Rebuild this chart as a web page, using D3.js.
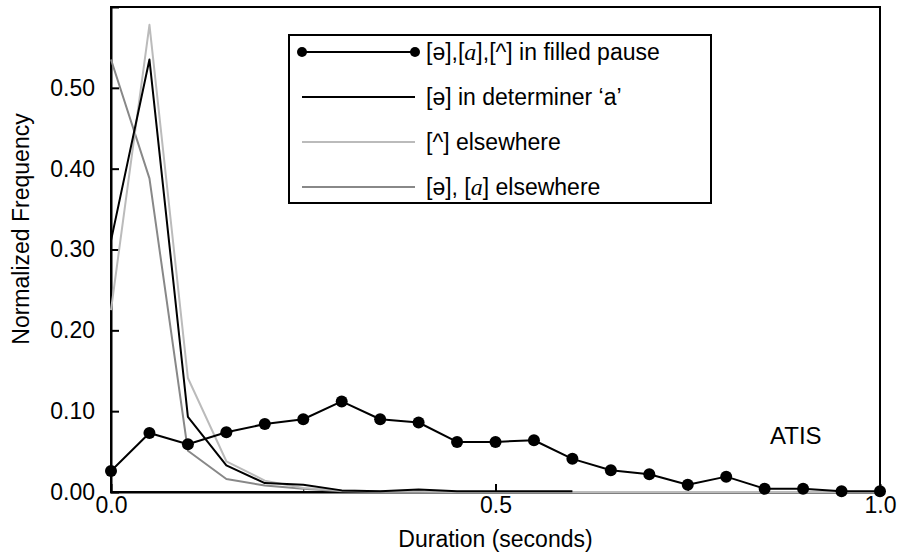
<!DOCTYPE html>
<html>
<head>
<meta charset="utf-8">
<script src="https://cdn.jsdelivr.net/npm/d3@7"></script>
<style>
  body { margin: 0; background: #fff; }
  text { font-family: "Liberation Sans", Arial, sans-serif; }
</style>
</head>
<body>
<div id="chart"></div>
<script>
// durations (seconds), bins of 0.05
var durations = [0, 0.05, 0.1, 0.15, 0.2, 0.25, 0.3, 0.35, 0.4, 0.45, 0.5,
                 0.55, 0.6, 0.65, 0.7, 0.75, 0.8, 0.85, 0.9, 0.95, 1.0];
var filledPause = [0.026, 0.073, 0.059, 0.074, 0.084, 0.090, 0.112, 0.090, 0.086, 0.062, 0.062,
                   0.064, 0.041, 0.027, 0.022, 0.009, 0.019, 0.004, 0.004, 0.001, 0.001];
var determinerA = [0.311, 0.535, 0.093, 0.033, 0.011, 0.009, 0.002, 0.001, 0.003, 0.001, 0.001,
                   0.001, 0.001];
var caretElse = [0.225, 0.578, 0.141, 0.038, 0.014, 0.005, 0.002, 0.001, 0.001, 0.000, 0.000,
                 0.000, 0.000, 0.000, 0.000, 0.000, 0.000, 0.000, 0.000, 0.000, 0.000];
var schwaElse = [0.535, 0.388, 0.051, 0.016, 0.008, 0.004, 0.001, 0.000, 0.000, 0.000, 0.000,
                 0.000, 0.000, 0.000, 0.000, 0.000, 0.000, 0.000, 0.000, 0.000, 0.000];
var xTicks = [0, 0.5, 1.0];
var xMinorTicks = [0.25, 0.75];
var yTicks = [0, 0.1, 0.2, 0.3, 0.4, 0.5];

var margin = {top: 7, right: 17, bottom: 63, left: 111},
    width = 897 - margin.left - margin.right,
    height = 555 - margin.top - margin.bottom;

var svg = d3.select("#chart").append("svg")
    .attr("width", 897)
    .attr("height", 555);
var g = svg.append("g")
    .attr("transform", "translate(" + margin.left + "," + margin.top + ")");

var x = d3.scaleLinear().domain([0, 1]).range([0, width]);
var y = d3.scaleLinear().domain([0, 0.6]).range([height, 0]);

// frame
g.append("rect")
  .attr("width", width).attr("height", height)
  .attr("fill", "none").attr("stroke", "#000").attr("stroke-width", 2);

// axes with inward ticks
var xAxis = d3.axisBottom(x).tickValues(xTicks).tickSize(-8).tickPadding(5)
  .tickFormat(d3.format(".1f"));
var gx = g.append("g").attr("transform", "translate(0," + height + ")").call(xAxis);
g.append("g").attr("transform", "translate(0," + height + ")")
  .call(d3.axisBottom(x).tickValues(xMinorTicks).tickSize(-4).tickFormat(""))
  .select(".domain").remove();
var yAxis = d3.axisLeft(y).tickValues(yTicks).tickSize(-8).tickPadding(16)
  .tickFormat(d3.format(".2f"));
var gy = g.append("g").call(yAxis);
[gx, gy].forEach(function (a) {
  a.select(".domain").attr("stroke-width", 2);
  a.selectAll(".tick line").attr("stroke-width", 2);
  a.selectAll("text").style("font-size", "23px").attr("fill", "#000");
});
gx.selectAll(".tick line").filter(function (d) { return d === 0 || d === 1; }).remove();
gy.selectAll(".tick line").filter(function (d) { return d === 0; }).remove();

// axis titles
svg.append("text")
  .attr("x", margin.left + width / 2).attr("y", 547)
  .attr("text-anchor", "middle").style("font-size", "23px")
  .text("Duration (seconds)");
svg.append("text")
  .attr("transform", "translate(29,229) rotate(-90)")
  .attr("text-anchor", "middle").style("font-size", "23px")
  .text("Normalized Frequency");

var line = d3.line()
  .x(function (d, i) { return x(durations[i]); })
  .y(function (d) { return y(d); });

var series = [
  {name: "schwa", values: schwaElse, color: "#888", w: 2},
  {name: "caret", values: caretElse, color: "#bbb", w: 2},
  {name: "det", values: determinerA, color: "#000", w: 2},
  {name: "fp", values: filledPause, color: "#000", w: 2}
];
series.forEach(function (s) {
  g.append("path").datum(s.values)
    .attr("d", line)
    .attr("fill", "none")
    .attr("stroke", s.color)
    .attr("stroke-width", s.w)
    .attr("stroke-linejoin", "round");
});

g.selectAll(".dot")
  .data(filledPause)
  .enter().append("circle")
  .attr("class", "dot")
  .attr("cx", function (d, i) { return x(durations[i]); })
  .attr("cy", function (d) { return y(d); })
  .attr("r", 6)
  .attr("fill", "#000");

// ATIS label
g.append("text")
  .attr("x", x(0.857)).attr("y", y(0.06))
  .style("font-size", "24px")
  .text("ATIS");

// legend
var legend = svg.append("g").attr("transform", "translate(289,35)");
legend.append("rect")
  .attr("width", 422).attr("height", 168)
  .attr("fill", "#fff").attr("stroke", "#000").attr("stroke-width", 2);

var rows = [
  {color: "#000", dots: true, parts: [["[ə],[", ""], ["a", "i"], ["],[^] in filled pause", ""]]},
  {color: "#000", dots: false, parts: [["[ə] in determiner ‘a’", ""]]},
  {color: "#bbb", dots: false, parts: [["[^] elsewhere", ""]]},
  {color: "#888", dots: false, parts: [["[ə], [", ""], ["a", "i"], ["] elsewhere", ""]]}
];
rows.forEach(function (r, i) {
  var ry = 17 + i * 45;
  var row = legend.append("g").attr("transform", "translate(0," + ry + ")");
  row.append("line")
    .attr("x1", 13).attr("x2", 126)
    .attr("stroke", r.color).attr("stroke-width", 2);
  if (r.dots) {
    row.selectAll("circle").data([13, 126]).enter().append("circle")
      .attr("cx", function (d) { return d; }).attr("r", 5).attr("fill", "#000");
  }
  var t = row.append("text").attr("x", 137).attr("y", 8).style("font-size", "23px");
  r.parts.forEach(function (p) {
    var ts = t.append("tspan").text(p[0]);
    if (p[1] === "i") {
      ts.style("font-family", "'Liberation Serif', 'Times New Roman', serif")
        .style("font-style", "italic").style("font-size", "24px");
    }
  });
});
</script>
</body>
</html>
